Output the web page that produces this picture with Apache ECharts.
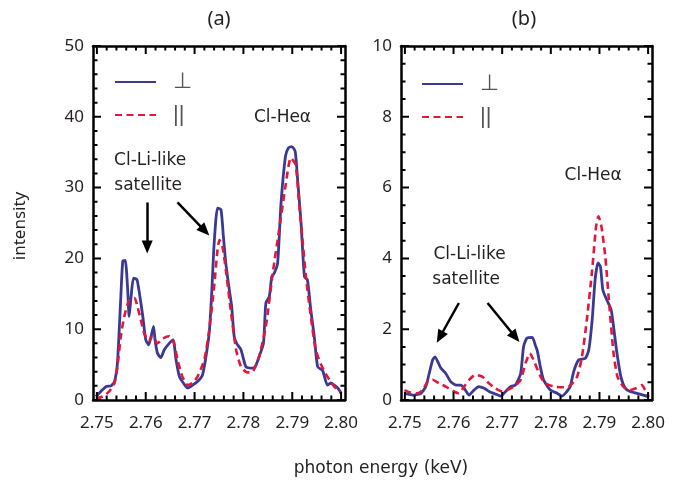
<!DOCTYPE html>
<html>
<head>
<meta charset="utf-8">
<script src="https://cdn.jsdelivr.net/npm/echarts@6/dist/echarts.min.js"></script>
<style>
  html, body { margin: 0; padding: 0; background: #fff; }
  #chart { width: 683px; height: 488px; }
</style>
</head>
<body>
<div id="chart"></div>
<script>
// Photon energy (keV) and intensity for the two polarisation channels

// Panel (a)
const aPerpX = [2.7498, 2.7508, 2.7519, 2.7529, 2.7536, 2.7542, 2.7549, 2.7553, 2.7558, 2.7563, 2.7566, 2.7570, 2.7575, 2.7582, 2.7587, 2.7594, 2.7600, 2.7606, 2.7611, 2.7616, 2.7619, 2.7624, 2.7631, 2.7638, 2.7648, 2.7656, 2.7662, 2.7669, 2.7677, 2.7686, 2.7696, 2.7706, 2.7716, 2.7723, 2.7730, 2.7735, 2.7740, 2.7747, 2.7754, 2.7759, 2.7764, 2.7771, 2.7776, 2.7781, 2.7786, 2.7795, 2.7805, 2.7815, 2.7824, 2.7832, 2.7841, 2.7846, 2.7853, 2.7858, 2.7863, 2.7870, 2.7877, 2.7886, 2.7892, 2.7899, 2.7906, 2.7911, 2.7918, 2.7925, 2.7931, 2.7938, 2.7945, 2.7952, 2.7962, 2.7972, 2.7979, 2.7986, 2.7993, 2.8000];
const aPerpY = [0.5, 1.2, 1.9, 2.0, 2.6, 5.2, 14.6, 19.6, 19.7, 15.6, 11.8, 14.6, 17.2, 17.0, 15.1, 11.8, 8.5, 7.8, 9.0, 10.4, 8.5, 6.6, 6.0, 7.1, 8.0, 8.5, 5.7, 3.3, 2.4, 1.7, 2.1, 2.6, 3.5, 6.0, 9.5, 15.0, 22.0, 27.1, 26.9, 23.1, 19.3, 15.6, 13.2, 9.0, 8.0, 7.1, 4.7, 4.5, 4.7, 6.1, 8.0, 13.7, 14.6, 17.4, 17.9, 19.3, 27.8, 34.4, 35.6, 35.8, 35.1, 31.1, 25.0, 17.4, 17.0, 12.7, 9.0, 4.7, 4.2, 2.1, 2.4, 2.1, 1.7, 1.0];
const aParX = [2.7498, 2.7512, 2.7525, 2.7536, 2.7542, 2.7549, 2.7556, 2.7566, 2.7577, 2.7583, 2.7590, 2.7597, 2.7606, 2.7614, 2.7624, 2.7635, 2.7648, 2.7658, 2.7665, 2.7675, 2.7686, 2.7696, 2.7706, 2.7720, 2.7730, 2.7740, 2.7747, 2.7751, 2.7757, 2.7764, 2.7774, 2.7785, 2.7795, 2.7808, 2.7819, 2.7832, 2.7846, 2.7860, 2.7873, 2.7887, 2.7897, 2.7907, 2.7914, 2.7921, 2.7928, 2.7938, 2.7948, 2.7959, 2.7972, 2.7986, 2.8000];
const aParY = [0.2, 0.5, 1.2, 2.4, 4.7, 9.0, 11.8, 14.1, 14.4, 13.2, 11.3, 9.4, 8.3, 9.0, 8.0, 8.7, 9.0, 8.0, 5.7, 3.3, 2.1, 2.4, 3.3, 5.7, 9.9, 16.0, 21.2, 22.6, 21.7, 18.4, 12.7, 7.1, 4.7, 3.9, 4.0, 6.1, 10.4, 17.9, 24.0, 30.6, 34.2, 33.2, 27.8, 22.6, 17.4, 11.8, 7.1, 5.0, 3.3, 1.9, 1.0];

// Panel (b)
const bPerpX = [2.7499, 2.7519, 2.7533, 2.7543, 2.7550, 2.7557, 2.7562, 2.7569, 2.7574, 2.7584, 2.7594, 2.7605, 2.7615, 2.7622, 2.7632, 2.7642, 2.7652, 2.7663, 2.7673, 2.7686, 2.7697, 2.7707, 2.7717, 2.7727, 2.7738, 2.7744, 2.7751, 2.7762, 2.7768, 2.7772, 2.7779, 2.7785, 2.7799, 2.7813, 2.7823, 2.7833, 2.7840, 2.7847, 2.7857, 2.7871, 2.7878, 2.7885, 2.7891, 2.7897, 2.7902, 2.7907, 2.7915, 2.7924, 2.7929, 2.7936, 2.7944, 2.7953, 2.7963, 2.7977, 2.7990, 2.8001];
const bPerpY = [0.19, 0.14, 0.19, 0.38, 0.75, 1.13, 1.22, 1.04, 0.9, 0.75, 0.52, 0.42, 0.42, 0.33, 0.14, 0.28, 0.38, 0.33, 0.24, 0.17, 0.11, 0.24, 0.38, 0.42, 0.75, 1.51, 1.75, 1.77, 1.55, 1.4, 0.9, 0.57, 0.28, 0.19, 0.11, 0.24, 0.38, 0.8, 1.13, 1.18, 1.41, 2.26, 3.39, 3.87, 3.77, 3.11, 2.83, 2.55, 2.07, 1.32, 0.66, 0.33, 0.24, 0.19, 0.14, 0.09];
const bParX = [2.7499, 2.7512, 2.7526, 2.7536, 2.7547, 2.7557, 2.7570, 2.7584, 2.7601, 2.7611, 2.7622, 2.7632, 2.7645, 2.7659, 2.7673, 2.7686, 2.7700, 2.7710, 2.7724, 2.7738, 2.7748, 2.7757, 2.7766, 2.7779, 2.7789, 2.7806, 2.7823, 2.7839, 2.7854, 2.7864, 2.7874, 2.7885, 2.7893, 2.7898, 2.7904, 2.7912, 2.7921, 2.7929, 2.7937, 2.7949, 2.7963, 2.7975, 2.7987, 2.7994, 2.8001];
const bParY = [0.28, 0.21, 0.19, 0.28, 0.52, 0.57, 0.47, 0.38, 0.24, 0.19, 0.38, 0.57, 0.71, 0.66, 0.47, 0.33, 0.24, 0.28, 0.38, 0.57, 1.04, 1.32, 1.08, 0.66, 0.47, 0.38, 0.36, 0.4, 0.66, 1.22, 2.26, 3.68, 4.9, 5.19, 4.9, 4.05, 2.55, 1.32, 0.66, 0.38, 0.28, 0.33, 0.42, 0.28, 0.09];

// Axis ticks and labels
const xMajorTicks = [2.75, 2.76, 2.77, 2.78, 2.79, 2.80];
const xMinorTicks = [2.752, 2.754, 2.756, 2.758, 2.762, 2.764, 2.766, 2.768, 2.772, 2.774, 2.776, 2.778, 2.782, 2.784, 2.786, 2.788, 2.792, 2.794, 2.796, 2.798];
const xRange = [2.7492, 2.8008];
const yMajorTicksA = [0, 10, 20, 30, 40, 50];
const yMinorTicksA = [2, 4, 6, 8, 12, 14, 16, 18, 22, 24, 26, 28, 32, 34, 36, 38, 42, 44, 46, 48];
const yMajorTicksB = [0, 2, 4, 6, 8, 10];
const yMinorTicksB = [0.5, 1, 1.5, 2.5, 3, 3.5, 4.5, 5, 5.5, 6.5, 7, 7.5, 8.5, 9, 9.5];
const panelTitles = ['(a)', '(b)'];
const yMax = [50, 10];
const yStep = [10, 2];
const seriesNames = ['\u22A5', '||'];

const FONT = 'Noto Sans';
const NOTE_FONT = 'DejaVu Sans';
const BLUE = '#3a3a94';
const RED = '#e3173a';
const INK = '#231f20';
const MAJOR_LEN = 8;   // tick length, px
const MINOR_LEN = 4.5;

const zip = (xs, ys) => xs.map((x, i) => [x, ys[i]]);

const grids = [
  { left: 93, top: 46, width: 252, height: 354 },
  { left: 401, top: 46, width: 251, height: 354 }
];

const xAxes = [];
const yAxes = [];
grids.forEach((g, gi) => {
  ['bottom', 'top'].forEach(pos => {
    xAxes.push({
      type: 'value', gridIndex: gi, position: pos, min: xRange[0], max: xRange[1],
      axisLine: { show: true, onZero: false, lineStyle: { color: '#000', width: 2.5 } },
      axisTick: { show: false },
      axisLabel: pos === 'bottom' ? {
        show: true, customValues: xMajorTicks, margin: 15, fontFamily: FONT, fontSize: 17, color: INK,
        formatter: v => v.toFixed(2)
      } : { show: false },
      splitLine: { show: false }
    });
  });
  ['left', 'right'].forEach(pos => {
    yAxes.push({
      type: 'value', gridIndex: gi, position: pos, min: 0, max: yMax[gi], interval: yStep[gi],
      axisLine: { show: true, onZero: false, lineStyle: { color: '#000', width: 2.5 } },
      axisTick: { show: false },
      minorTick: { show: false },
      axisLabel: pos === 'left' ? { show: true, margin: 9, fontFamily: FONT, fontSize: 17, color: INK } : { show: false },
      splitLine: { show: false }
    });
  });
});

function lineSeries(name, gi, data, color, dashed, markLineData) {
  const s = {
    name, type: 'line', xAxisIndex: gi * 2, yAxisIndex: gi * 2, data,
    showSymbol: false, symbol: 'none', smooth: 0.2, clip: true, z: dashed ? 3 : 2,
    lineStyle: { color, width: dashed ? 2.6 : 2.8, type: dashed ? [7, 4.5] : 'solid' },
    itemStyle: { color },
    emphasis: { disabled: true }
  };
  if (markLineData) {
    s.markLine = {
      silent: true, symbol: ['none', 'triangle'], symbolSize: [11, 13],
      label: { show: false },
      lineStyle: { color: '#000', width: 2.5, type: 'solid' },
      emphasis: { disabled: true },
      data: markLineData
    };
  }
  return s;
}

// Arrows pointing at the Li-like satellite features
const arrowsA = [
  [{ coord: [2.7603, 27.9] }, { coord: [2.7603, 21.6] }],
  [{ coord: [2.7665, 27.9] }, { coord: [2.7721, 23.9] }]
];
const arrowsB = [
  [{ coord: [2.7611, 2.74] }, { coord: [2.7572, 1.78] }],
  [{ coord: [2.7670, 2.74] }, { coord: [2.7727, 1.78] }]
];

const chart = echarts.init(document.getElementById('chart'), null, { renderer: 'canvas', width: 683, height: 488 });

const legendCommon = {
  orient: 'vertical', itemWidth: 41, itemHeight: 14, itemGap: 11, padding: 0,
  data: seriesNames, selectedMode: false,
  itemStyle: { opacity: 0 },
  textStyle: { fontFamily: 'Liberation Sans', fontSize: 22, color: '#555', lineHeight: 14, padding: [2, 0, 0, 12] }
};

const dataSeries = [
  lineSeries(seriesNames[0], 0, zip(aPerpX, aPerpY), BLUE, false, arrowsA),
  lineSeries(seriesNames[1], 0, zip(aParX, aParY), RED, true),
  lineSeries(seriesNames[0], 1, zip(bPerpX, bPerpY), BLUE, false, arrowsB),
  lineSeries(seriesNames[1], 1, zip(bParX, bParY), RED, true)
];

chart.setOption({
  animation: false,
  backgroundColor: '#fff',
  textStyle: { fontFamily: FONT },
  title: [
    { text: panelTitles[0], left: 214, top: 4, textAlign: 'center', textStyle: { fontFamily: FONT, fontSize: 20, fontWeight: 'normal', color: INK } },
    { text: panelTitles[1], left: 519, top: 4, textAlign: 'center', textStyle: { fontFamily: FONT, fontSize: 20, fontWeight: 'normal', color: INK } },
    { text: 'photon energy (keV)', left: 376, top: 455, textAlign: 'center', textStyle: { fontFamily: NOTE_FONT, fontSize: 17, fontWeight: 'normal', color: INK } }
  ],
  legend: [
    Object.assign({ left: 114, top: 71 }, legendCommon),
    Object.assign({ left: 421, top: 73 }, legendCommon)
  ],
  grid: grids,
  xAxis: xAxes,
  yAxis: yAxes,
  series: dataSeries
});

// Inward tick marks on all four sides, drawn as short segments in data space.
// Pixel lengths are turned into data lengths through each panel's scales.
const yTicks = [[yMajorTicksA, yMinorTicksA], [yMajorTicksB, yMinorTicksB]];
function tickSeries(gi) {
  const finder = { xAxisIndex: gi * 2, yAxisIndex: gi * 2 };
  const p0 = chart.convertToPixel(finder, [xRange[0], 0]);
  const p1 = chart.convertToPixel(finder, [xRange[1], yMax[gi]]);
  const xPerPx = (xRange[1] - xRange[0]) / (p1[0] - p0[0]);
  const yPerPx = yMax[gi] / (p0[1] - p1[1]);
  const pts = [];
  const seg = (a, b) => { pts.push(a, b, '-'); };
  const xs = (vals, len) => vals.forEach(v => {
    seg([v, 0], [v, len * yPerPx]);
    seg([v, yMax[gi]], [v, yMax[gi] - len * yPerPx]);
  });
  const ys = (vals, len) => vals.forEach(v => {
    seg([xRange[0], v], [xRange[0] + len * xPerPx, v]);
    seg([xRange[1], v], [xRange[1] - len * xPerPx, v]);
  });
  xs(xMajorTicks, MAJOR_LEN);
  xs(xMinorTicks, MINOR_LEN);
  ys(yTicks[gi][0], MAJOR_LEN);
  ys(yTicks[gi][1], MINOR_LEN);
  return {
    type: 'line', xAxisIndex: gi * 2, yAxisIndex: gi * 2, data: pts,
    showSymbol: false, symbol: 'none', connectNulls: false, clip: false, silent: true, z: 6,
    lineStyle: { color: '#000', width: 2, cap: 'butt' },
    emphasis: { disabled: true }, tooltip: { show: false }
  };
}
chart.setOption({ series: dataSeries.concat([tickSeries(0), tickSeries(1)]) });

// Text annotations placed in data coordinates
const notes = [
  { gi: 0, at: [2.7609, 33.8], text: 'Cl-Li-like' },
  { gi: 0, at: [2.7605, 30.3], text: 'satellite' },
  { gi: 0, at: [2.7880, 39.9], text: 'Cl-He\u03B1' },
  { gi: 1, at: [2.7633, 4.12], text: 'Cl-Li-like' },
  { gi: 1, at: [2.7626, 3.40], text: 'satellite' },
  { gi: 1, at: [2.7887, 6.34], text: 'Cl-He\u03B1' }
];
const graphics = notes.map(n => {
  const p = chart.convertToPixel({ xAxisIndex: n.gi * 2, yAxisIndex: n.gi * 2 }, n.at);
  return {
    type: 'text', x: p[0], y: p[1], silent: true,
    style: { text: n.text, fontFamily: NOTE_FONT, fontSize: 17, fill: INK, align: 'center', verticalAlign: 'middle' }
  };
});
graphics.push({
  type: 'text', x: 20, y: 226, rotation: Math.PI / 2, silent: true,
  style: { text: 'intensity', fontFamily: FONT, fontSize: 17, fill: INK, align: 'center', verticalAlign: 'middle' }
});
chart.setOption({ graphic: graphics });
</script>
</body>
</html>
